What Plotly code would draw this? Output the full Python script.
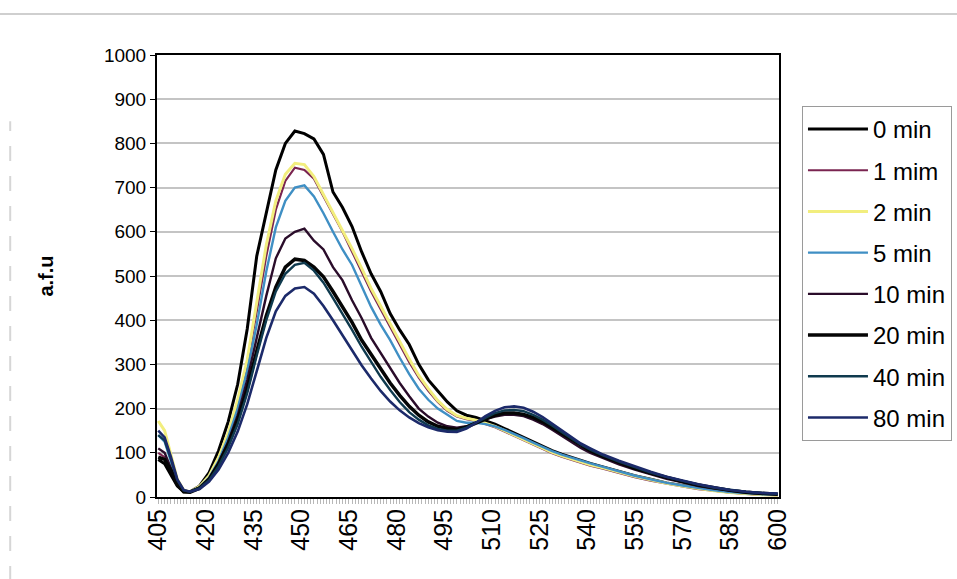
import plotly.graph_objects as go

wavelength = [405, 407, 409, 411, 413, 415, 418, 421, 424, 427, 430, 433, 436, 439, 442, 445, 448, 451,
              454, 457, 460, 463, 466, 469, 472, 475, 478, 481, 484, 487, 490, 493, 496, 499, 502, 505,
              508, 511, 514, 517, 520, 523, 526, 529, 532, 535, 538, 541, 545, 550, 555, 560, 565, 570,
              575, 580, 585, 590, 595, 600]

s_0min = [85, 75, 50, 25, 12, 12, 25, 55, 105, 170, 255, 380, 545, 645, 740, 800, 828, 822,
          810, 775, 690, 655, 612, 555, 505, 465, 415, 378, 345, 300, 265, 240, 215, 195, 185, 180,
          172, 165, 155, 145, 135, 125, 115, 105, 97, 90, 82, 76, 68, 58, 48, 40, 32, 26,
          20, 15, 11, 8, 6, 5]
s_1min = [100, 90, 60, 30, 14, 12, 22, 45, 85, 140, 210, 300, 420, 545, 650, 715, 745, 740,
          720, 680, 640, 600, 555, 510, 465, 425, 385, 345, 305, 270, 240, 215, 195, 182, 176, 172,
          165, 158, 148, 138, 128, 118, 108, 99, 91, 84, 77, 71, 64, 54, 45, 37, 30, 24,
          18, 14, 10, 7, 5, 4]
s_2min = [172, 150, 95, 40, 15, 12, 24, 48, 90, 145, 220, 310, 440, 570, 670, 730, 755, 752,
          725, 685, 645, 605, 562, 518, 472, 432, 392, 350, 312, 275, 245, 218, 198, 184, 178, 174,
          167, 160, 150, 140, 130, 120, 110, 101, 93, 86, 79, 73, 66, 56, 47, 39, 31, 25,
          19, 14, 10, 7, 5, 4]
s_5min = [140, 125, 80, 35, 14, 12, 22, 44, 82, 135, 200, 285, 390, 510, 610, 670, 700, 705,
          680, 642, 600, 560, 525, 478, 430, 390, 355, 315, 278, 245, 220, 200, 185, 172, 168, 168,
          165, 160, 152, 143, 133, 123, 113, 104, 96, 89, 82, 76, 68, 58, 48, 40, 32, 26,
          20, 15, 11, 8, 6, 5]
s_10min = [110, 100, 65, 30, 13, 12, 22, 42, 78, 125, 185, 265, 360, 455, 540, 585, 600, 607,
           580, 560, 520, 490, 445, 405, 360, 325, 290, 258, 228, 200, 182, 168, 160, 157, 160, 168,
           176, 182, 186, 186, 183, 175, 165, 152, 138, 124, 111, 100, 88, 74, 62, 51, 41, 33,
           25, 19, 14, 10, 7, 6]
s_20min = [90, 85, 60, 28, 12, 11, 20, 40, 75, 120, 175, 245, 330, 410, 475, 520, 538, 535,
           520, 498, 465, 430, 395, 355, 322, 290, 258, 230, 205, 185, 170, 160, 155, 153, 158, 167,
           177, 185, 190, 190, 187, 180, 170, 157, 143, 129, 116, 105, 92, 78, 65, 54, 44, 35,
           27, 20, 15, 11, 8, 6]
s_40min = [140, 128, 85, 38, 15, 12, 20, 38, 70, 112, 165, 235, 320, 400, 465, 505, 525, 530,
           512, 485, 450, 415, 378, 340, 305, 272, 242, 215, 192, 175, 162, 154, 150, 150, 157, 168,
           180, 190, 196, 197, 194, 186, 175, 162, 147, 132, 119, 107, 94, 80, 67, 55, 45, 36,
           28, 21, 16, 12, 9, 7]
s_80min = [150, 135, 90, 40, 16, 12, 18, 35, 62, 100, 148, 210, 285, 360, 420, 455, 472, 475,
           460, 432, 400, 365, 332, 298, 268, 240, 216, 196, 180, 167, 158, 151, 148, 147, 155, 168,
           183, 195, 203, 205, 202, 193, 181, 166, 151, 135, 121, 110, 96, 82, 69, 57, 46, 37,
           29, 22, 16, 12, 9, 8]

series_names = ["0 min", "1 mim", "2 min", "5 min", "10 min", "20 min", "40 min", "80 min"]
series_values = [s_0min, s_1min, s_2min, s_5min, s_10min, s_20min, s_40min, s_80min]
series_colors = ["#000000", "#7a2450", "#f2ee7e", "#3f8fc4", "#2a0c2a", "#050505", "#0f3a4e", "#1c2a6a"]
series_widths = [3, 2.2, 3, 2.4, 2.4, 3.5, 2.4, 2.6]

x_tick_vals = list(range(405, 601, 15))
y_tick_vals = list(range(0, 1001, 100))

FONT = "Arial, Liberation Sans, sans-serif"

fig = go.Figure()
for name, vals, col, w in zip(series_names, series_values, series_colors, series_widths):
    fig.add_trace(go.Scatter(x=wavelength, y=vals, mode="lines", name=name,
                             legendgroup=name,
                             line=dict(color=col, width=w)))

fig.update_layout(
    width=957, height=579,
    margin=dict(l=157, r=178, t=55, b=82, autoexpand=False),
    paper_bgcolor="white", plot_bgcolor="white",
    font=dict(family=FONT, color="#000000", size=19),
    showlegend=True,
    legend=dict(xref="container", yref="container", x=0.838, y=0.817,
                xanchor="left", yanchor="top", maxheight=450,
                traceorder="grouped", tracegroupgap=7,
                bordercolor="#9a9a9a", borderwidth=1,
                font=dict(family=FONT, size=24, color="#000000"),
                itemwidth=60, bgcolor="white"),
    xaxis=dict(range=[404.6, 600.4], tickmode="array", tickvals=x_tick_vals,
               ticktext=[str(v) for v in x_tick_vals], tickangle=-90,
               tickfont=dict(family=FONT, size=25),
               showgrid=False, zeroline=False, automargin=False,
               showline=True, linecolor="#000000", linewidth=2, mirror=True,
               ticks="", minor=dict(ticks="outside", dtick=1, ticklen=5,
                                    tickcolor="#b8b8b8", tickwidth=1)),
    yaxis=dict(range=[0, 1000], tickmode="array", tickvals=y_tick_vals,
               tickfont=dict(family=FONT, size=19), automargin=False,
               showgrid=True, gridcolor="#c4c4c4", gridwidth=1.5,
               zeroline=False, showline=True, linecolor="#000000", linewidth=2, mirror=True,
               ticks="outside", ticklen=5, tickcolor="#000000",
               title=dict(text="<b>a.f.u</b>", font=dict(family=FONT, size=20), standoff=45)),
)

# faint frame remnants of the original page
fig.add_shape(type="line", xref="paper", yref="paper", x0=-0.26, x1=1.3, y0=1.093, y1=1.093,
              line=dict(color="#cfcfcf", width=2))
fig.add_shape(type="line", xref="paper", yref="paper", x0=-0.236, x1=-0.236, y0=-0.19, y1=0.85,
              line=dict(color="#d6d6d6", width=2, dash="longdash"))

fig.write_html("out.html")
